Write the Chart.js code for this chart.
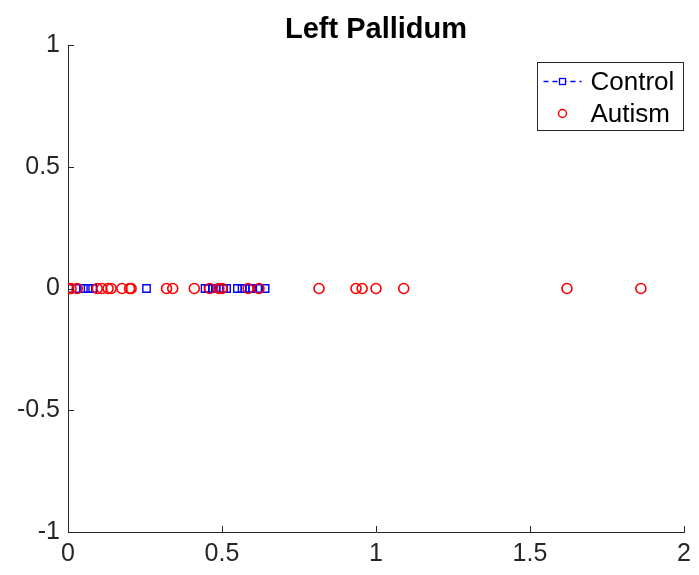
<!DOCTYPE html>
<html>
<head>
<meta charset="utf-8">
<script src="https://cdn.jsdelivr.net/npm/chart.js@4/dist/chart.umd.min.js"></script>
<style>
  html, body { margin: 0; padding: 0; background: #fff; }
  #wrap { width: 699px; height: 575px; }
</style>
</head>
<body>
<div id="wrap"><canvas id="c" width="699" height="575"></canvas></div>
<script>
// valores (todos em y = 0)
const controlX = [0.005, 0.03, 0.05, 0.065, 0.08, 0.255, 0.445, 0.455, 0.47, 0.48,
                  0.49, 0.505, 0.515, 0.55, 0.565, 0.575, 0.59, 0.6, 0.62, 0.64];
const autismX  = [0.0, 0.01, 0.03, 0.095, 0.11, 0.13, 0.14, 0.175, 0.2, 0.205,
                  0.32, 0.34, 0.41, 0.46, 0.49, 0.5, 0.585, 0.62, 0.815, 0.935,
                  0.955, 1.0, 1.09, 1.62, 1.86];
const xTicks = [0, 0.5, 1, 1.5, 2];
const yTicks = [-1, -0.5, 0, 0.5, 1];
const seriesNames = ['Control', 'Autism'];

const AXIS = '#262626';
const FONT = '"Liberation Sans", Arial, Helvetica, sans-serif';

const toPts = (xs) => xs.map(x => ({ x: x, y: 0 }));

// ticks para dentro (estilo MATLAB)
const inwardTicks = {
  id: 'inwardTicks',
  afterDraw(chart) {
    const { ctx, chartArea: a, scales } = chart;
    ctx.save();
    ctx.strokeStyle = AXIS;
    ctx.lineWidth = 1;
    ctx.beginPath();
    xTicks.forEach(v => {
      const px = Math.round(scales.x.getPixelForValue(v)) + 0.5;
      ctx.moveTo(px, a.bottom);
      ctx.lineTo(px, a.bottom - 6);
    });
    yTicks.forEach(v => {
      const py = Math.round(scales.y.getPixelForValue(v)) + 0.5;
      ctx.moveTo(a.left, py);
      ctx.lineTo(a.left + 6, py);
    });
    ctx.stroke();
    ctx.restore();
  }
};

// legenda com linha tracejada + marcador
const matlabLegend = {
  id: 'matlabLegend',
  afterDraw(chart) {
    const { ctx, chartArea: a } = chart;
    const w = 146, h = 68;
    const x0 = Math.round(a.right - w - 1) + 0.5;
    const y0 = Math.round(a.top + 17) + 0.5;
    ctx.save();
    ctx.fillStyle = '#fff';
    ctx.fillRect(x0, y0, w, h);
    ctx.strokeStyle = AXIS;
    ctx.lineWidth = 1;
    ctx.strokeRect(x0, y0, w, h);

    const r1 = y0 + 19, r2 = y0 + 51;
    const mx = x0 + 25;
    // Control: linha tracejada + quadrado
    ctx.strokeStyle = 'blue';
    ctx.lineWidth = 1.3;
    ctx.setLineDash([5, 4]);
    ctx.beginPath();
    ctx.moveTo(x0 + 6, r1);
    ctx.lineTo(x0 + 44, r1);
    ctx.stroke();
    ctx.setLineDash([]);
    ctx.fillStyle = '#fff';
    ctx.fillRect(mx - 3, r1 - 3, 6, 6);
    ctx.strokeRect(mx - 3, r1 - 3, 6, 6);
    // Autism: círculo
    ctx.strokeStyle = 'red';
    ctx.lineWidth = 1.5;
    ctx.beginPath();
    ctx.arc(mx, r2, 4, 0, Math.PI * 2);
    ctx.stroke();

    ctx.fillStyle = '#000';
    ctx.font = '26px ' + FONT;
    ctx.textBaseline = 'middle';
    ctx.fillText(seriesNames[0], x0 + 53, r1 + 1);
    ctx.fillText(seriesNames[1], x0 + 53, r2 + 1);
    ctx.restore();
  }
};

const fmt = (v) => String(v);

new Chart(document.getElementById('c'), {
  type: 'scatter',
  data: {
    datasets: [
      {
        label: seriesNames[0],
        data: toPts(controlX),
        pointStyle: 'rect',
        pointRadius: 5.2,
        borderColor: 'blue',
        backgroundColor: 'rgba(0,0,0,0)',
        borderWidth: 1.4,
        order: 1
      },
      {
        label: seriesNames[1],
        data: toPts(autismX),
        pointStyle: 'circle',
        pointRadius: 5,
        borderColor: 'red',
        backgroundColor: 'rgba(0,0,0,0)',
        borderWidth: 1.6,
        order: 0
      }
    ]
  },
  options: {
    responsive: false,
    animation: false,
    layout: { padding: { left: 0, right: 15, top: 0, bottom: 0 } },
    plugins: {
      legend: { display: false },
      tooltip: { enabled: false },
      title: {
        display: true,
        text: 'Left Pallidum',
        fullSize: false,
        color: '#000',
        font: { family: FONT, size: 29, weight: 'bold', lineHeight: 1 },
        padding: { top: 15, bottom: 1 }
      }
    },
    scales: {
      x: {
        type: 'linear',
        min: 0, max: 2,
        afterBuildTicks: (s) => { s.ticks = xTicks.map(v => ({ value: v })); },
        afterFit: (s) => { s.height = 43; s.paddingRight = 0; },
        grid: { display: false, drawTicks: false },
        border: { display: true, color: AXIS, width: 1 },
        ticks: {
          color: AXIS,
          padding: 7,
          maxRotation: 0,
          callback: fmt,
          font: { family: FONT, size: 25 }
        }
      },
      y: {
        type: 'linear',
        min: -1, max: 1,
        afterBuildTicks: (s) => { s.ticks = yTicks.map(v => ({ value: v })); },
        afterFit: (s) => { s.width = 68; },
        grid: { display: false, drawTicks: false },
        border: { display: true, color: AXIS, width: 1 },
        ticks: {
          color: AXIS,
          padding: 8,
          callback: fmt,
          font: { family: FONT, size: 25 }
        }
      }
    }
  },
  plugins: [inwardTicks, matlabLegend]
});
</script>
</body>
</html>
